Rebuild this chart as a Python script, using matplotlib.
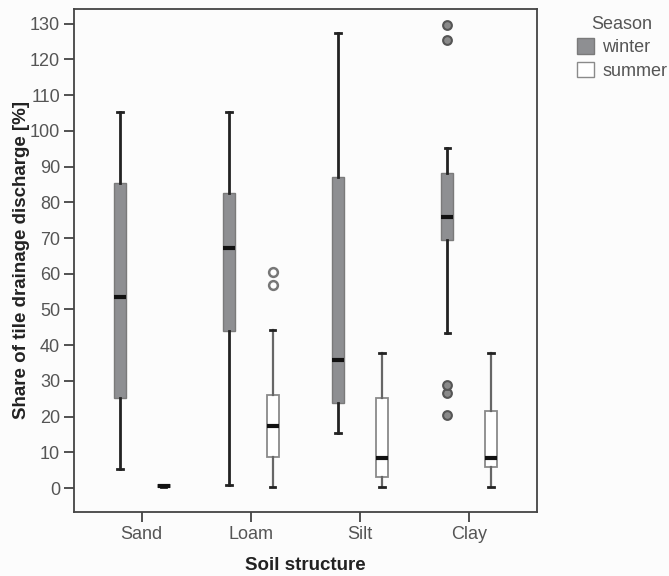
import matplotlib.pyplot as plt
from matplotlib.patches import Patch
import numpy as np

plt.rcParams['font.family'] = ['Liberation Sans', 'DejaVu Sans']

soils = ['Sand', 'Loam', 'Silt', 'Clay']
seasons = ['winter', 'summer']

# five-number summaries (low whisker, q1, median, q3, high whisker)
winter_wlo = [5.3, 0.8, 15.5, 43.3]
winter_q1 = [25.3, 43.9, 23.7, 69.4]
winter_med = [53.5, 67.2, 36.0, 75.8]
winter_q3 = [85.3, 82.7, 87.1, 88.1]
winter_whi = [105.2, 105.2, 127.5, 95.2]
winter_fliers = [[], [], [], [20.6, 26.7, 29.0, 125.3, 129.7]]

summer_wlo = [0.2, 0.2, 0.4, 0.4]
summer_q1 = [0.3, 8.8, 3.2, 6.0]
summer_med = [0.6, 17.4, 8.3, 8.3]
summer_q3 = [0.9, 26.2, 25.3, 21.6]
summer_whi = [1.0, 44.2, 37.7, 37.7]
summer_fliers = [[], [56.8, 60.5], [], []]


def make_stats(wlo, q1, med, q3, whi, fliers):
    out = []
    for i in range(len(med)):
        out.append(dict(whislo=wlo[i], q1=q1[i], med=med[i], q3=q3[i],
                        whishi=whi[i], fliers=fliers[i]))
    return out


fig = plt.figure(figsize=(6.69, 5.76), dpi=100, facecolor='#fcfcfc')
ax = fig.add_axes([0.1106, 0.111, 0.692, 0.874])
ax.set_facecolor('#fcfcfc')

x = np.arange(len(soils))
off = 0.2
w = 0.11

winter_col = '#8e8f92'
ax.bxp(make_stats(winter_wlo, winter_q1, winter_med, winter_q3, winter_whi, winter_fliers),
       positions=x - off, widths=w, capwidths=0.05, patch_artist=True,
       boxprops=dict(facecolor=winter_col, edgecolor='#7a7a7a', linewidth=1),
       medianprops=dict(color='#111111', linewidth=3, solid_capstyle='butt'),
       whiskerprops=dict(color='#222222', linewidth=2),
       capprops=dict(color='#222222', linewidth=2),
       flierprops=dict(marker='o', markersize=6.3, markerfacecolor='#8a8a8a',
                       markeredgecolor='#555555', markeredgewidth=1.5))

ax.bxp(make_stats(summer_wlo, summer_q1, summer_med, summer_q3, summer_whi, summer_fliers),
       positions=x + off, widths=w, capwidths=0.05, patch_artist=True,
       boxprops=dict(facecolor='white', edgecolor='#8a8a8a', linewidth=1.3),
       medianprops=dict(color='#111111', linewidth=3, solid_capstyle='butt'),
       whiskerprops=dict(color='#666666', linewidth=1.6),
       capprops=dict(color='#222222', linewidth=2),
       flierprops=dict(marker='o', markersize=6.3, markerfacecolor='white',
                       markeredgecolor='#777777', markeredgewidth=1.8))

ax.set_xlim(-0.62, 3.62)
ax.set_ylim(-6.7, 134.2)
ax.set_xticks(x)
ax.set_xticklabels(soils)
ax.set_yticks(np.arange(0, 131, 10))

for s in ax.spines.values():
    s.set_color('#444444')
    s.set_linewidth(1.3)
ax.tick_params(axis='both', colors='#444444', labelcolor='#555555', labelsize=13,
               length=7, width=1.3, pad=3)

ax.set_xlabel('Soil structure', fontsize=13.5, fontweight='bold', color='#222222', labelpad=10)
ax.set_ylabel('Share of tile drainage discharge [%]', fontsize=13.5, fontweight='bold',
              color='#222222', labelpad=0)

handles = [Patch(facecolor=winter_col, edgecolor='#7a7a7a'),
           Patch(facecolor='white', edgecolor='#8a8a8a')]
leg = ax.legend(handles, seasons, title='Season', loc='upper left',
                bbox_to_anchor=(577 / 669, 1 - 16 / 576), bbox_transform=fig.transFigure,
                frameon=False, fontsize=13, title_fontsize=13, borderpad=0,
                borderaxespad=0, handlelength=0.95, handleheight=0.95,
                handletextpad=0.45, labelspacing=0.3)
for t in leg.get_texts():
    t.set_color('#555555')
leg.get_title().set_color('#555555')

fig.savefig('out.png', dpi=100, facecolor=fig.get_facecolor())
